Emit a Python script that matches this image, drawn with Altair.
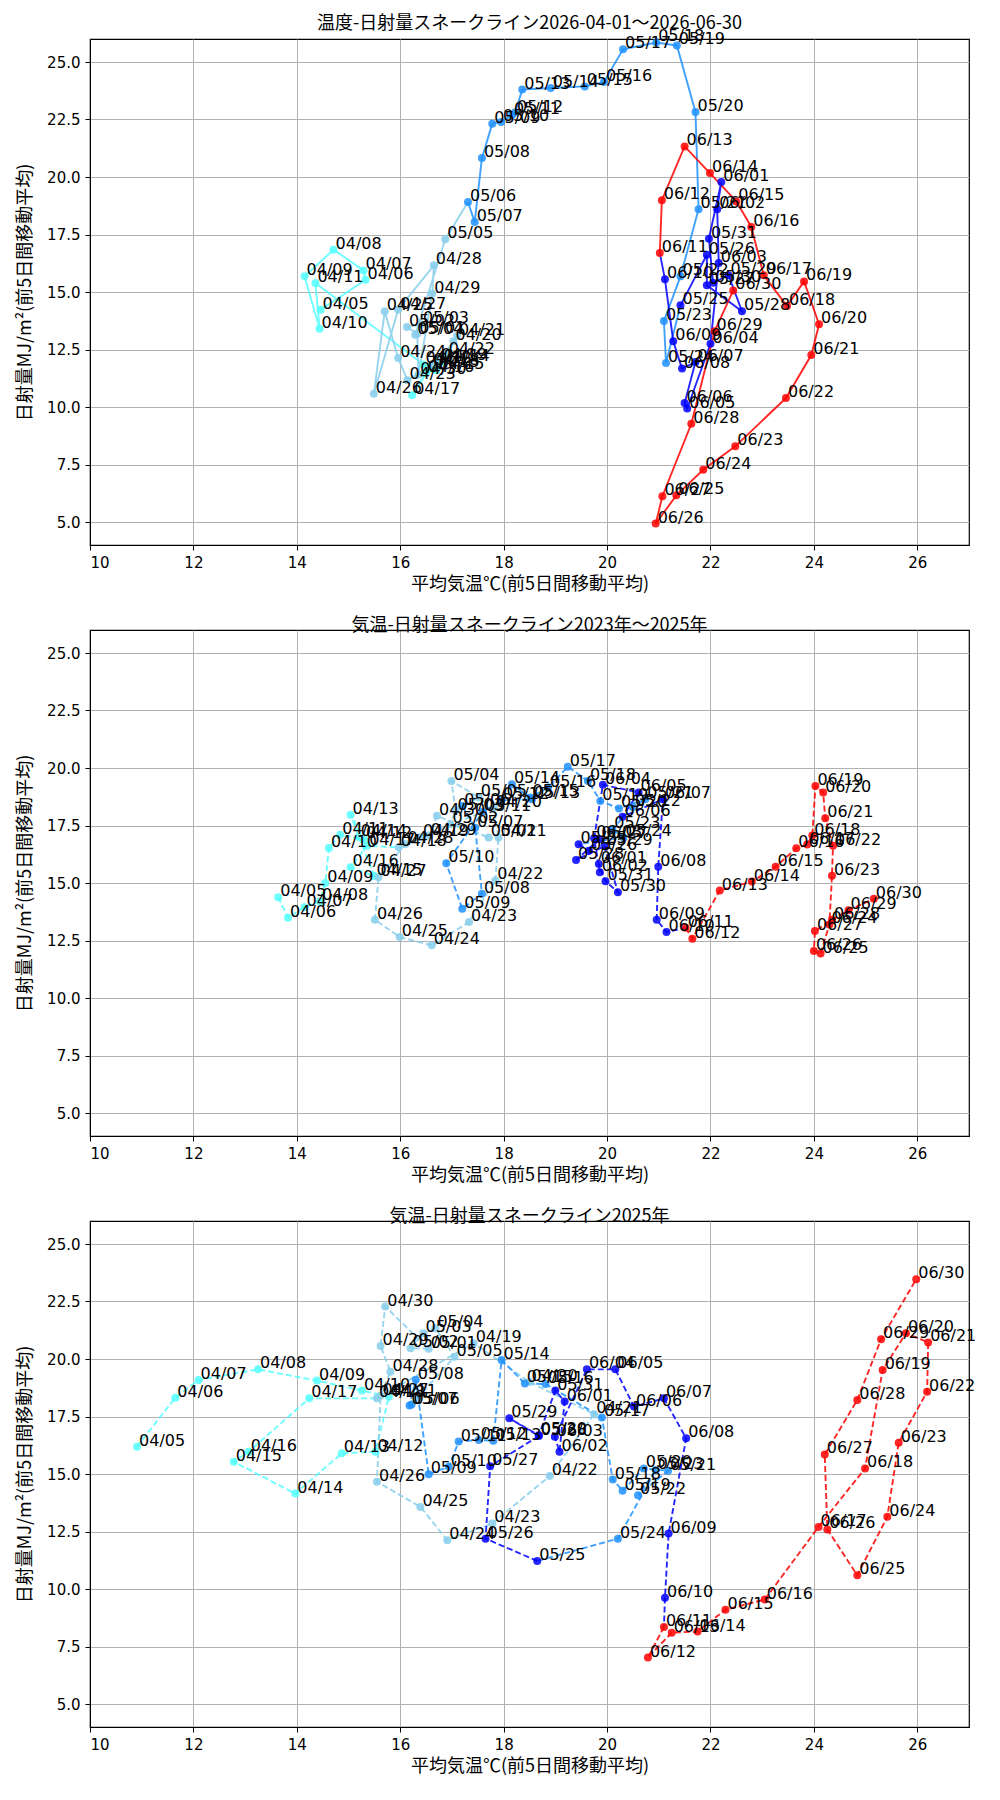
import altair as alt
import pandas as pd

# date labels 04/05 .. 06/30
dates = [d.strftime("%m/%d") for d in pd.date_range("2026-04-05", "2026-06-30")]

# colour groups (start date of each group)
group_starts = ["04/05", "04/18", "05/06", "05/25", "06/11"]
group_colors = ["#55ffff", "skyblue", "dodgerblue", "blue", "red"]

titles = [
    "温度-日射量スネークライン2026-04-01〜2026-06-30",
    "気温-日射量スネークライン2023年〜2025年",
    "気温-日射量スネークライン2025年",
]

# ---- panel 1: 2026 ----
x2026 = [14.46, 15.33, 15.29, 14.71, 14.15, 14.44, 14.36, 16.45, 16.60, 16.80,
         16.70, 16.50, 16.23, 16.60, 16.75, 17.03, 17.10, 16.90, 16.14, 15.96,
         15.70, 15.49, 15.96, 16.65, 16.62, 16.35, 16.33, 16.13, 16.40, 16.29,
         16.87, 17.31, 17.44, 17.58, 17.78, 17.95, 18.16, 18.22, 18.36, 18.91,
         19.57, 19.94, 20.31, 20.95, 21.35, 21.71, 21.77, 21.42, 21.10, 21.14,
         21.42, 21.93, 21.93, 22.61, 22.35, 22.05, 21.97, 22.21, 22.13, 22.16,
         22.00, 21.55, 21.50, 21.71, 21.45, 21.28, 21.12, 21.02, 21.06, 21.50,
         21.99, 22.50, 22.79, 23.03, 23.48, 23.81, 24.10, 23.95, 23.46, 22.48,
         21.86, 21.34, 20.94, 21.07, 21.63, 22.08, 22.44]
y2026 = [14.23, 15.53, 15.94, 16.84, 15.68, 13.40, 15.39, 11.85, 11.70, 11.95,
         11.60, 11.50, 10.51, 11.80, 12.00, 12.86, 13.10, 12.25, 11.16, 12.13,
         14.16, 10.58, 14.23, 16.16, 14.93, 11.40, 13.19, 13.48, 13.60, 13.14,
         17.29, 18.91, 18.04, 20.83, 22.32, 22.39, 22.68, 22.80, 23.80, 23.87,
         23.94, 24.13, 25.55, 25.85, 25.72, 22.83, 18.60, 15.68, 13.74, 11.91,
         14.42, 16.62, 15.29, 14.16, 15.73, 15.40, 17.32, 19.78, 18.60, 16.26,
         12.75, 9.93, 10.17, 11.96, 11.67, 12.86, 15.55, 16.70, 18.99, 21.33,
         20.17, 18.94, 17.83, 15.73, 14.39, 15.46, 13.60, 12.26, 10.39, 8.29,
         7.27, 6.16, 4.93, 6.12, 9.27, 13.29, 15.07]

# ---- panel 2: 2023-2025 average ----
xavg = [13.64, 13.83, 14.15, 14.45, 14.55, 14.62, 14.84, 15.30, 15.04, 15.20,
        15.50, 15.04, 15.36, 15.97, 16.40, 17.81, 17.90, 17.84, 17.33, 16.61,
        15.99, 15.51, 15.58, 16.10, 16.55, 16.71, 17.71, 16.97, 17.07, 16.99,
        17.52, 17.20, 17.45, 17.58, 17.20, 16.89, 17.60, 17.95, 18.55, 18.16,
        18.52, 18.86, 19.24, 19.63, 19.87, 20.23, 20.74, 20.50, 20.10, 20.32,
        19.45, 19.65, 19.85, 19.40, 19.95, 20.21, 19.97, 19.84, 19.86, 19.75,
        19.92, 20.61, 20.30, 21.08, 20.99, 20.96, 21.15, 21.52, 21.65, 22.18,
        22.80, 23.26, 23.66, 23.87, 23.97, 24.03, 24.18, 24.22, 24.37, 24.35,
        24.30, 24.13, 24.00, 24.02, 24.35, 24.67, 25.16]
yavg = [14.38, 13.49, 13.95, 14.20, 15.00, 16.52, 17.10, 16.90, 17.97, 17.00,
        15.30, 15.68, 16.62, 16.55, 17.00, 18.28, 16.98, 15.11, 13.30, 12.29,
        12.65, 13.40, 15.25, 16.70, 17.06, 17.92, 16.98, 17.56, 18.14, 19.44,
        18.72, 18.35, 17.40, 14.53, 13.88, 15.86, 18.10, 18.60, 18.64, 19.29,
        18.72, 19.15, 20.05, 19.44, 18.57, 18.24, 18.64, 18.30, 17.34, 16.98,
        16.69, 16.40, 16.90, 16.00, 16.60, 14.60, 15.08, 15.83, 15.47, 16.95,
        19.27, 18.94, 17.88, 18.64, 15.71, 13.40, 12.87, 13.05, 12.58, 14.67,
        15.06, 15.71, 16.51, 16.67, 17.06, 19.22, 18.93, 17.82, 16.62, 15.32,
        13.20, 11.93, 12.04, 12.91, 13.40, 13.81, 14.31]

# ---- panel 3: 2025 ----
x2025 = [10.91, 11.65, 12.10, 13.25, 14.39, 15.26, 15.78, 15.52, 14.87, 13.97,
         12.78, 13.07, 14.24, 15.55, 17.42, 18.50, 19.75, 18.89, 17.78, 16.91,
         16.39, 15.55, 15.62, 15.81, 15.62, 15.71, 16.55, 16.20, 16.45, 16.68,
         17.05, 16.22, 16.18, 16.30, 16.55, 16.94, 17.13, 17.52, 17.80, 17.96,
         18.41, 18.81, 19.90, 20.11, 20.30, 20.71, 21.18, 20.60, 20.94, 20.21,
         18.65, 17.65, 17.74, 18.68, 18.11, 18.68, 19.00, 19.18, 19.08, 18.99,
         19.61, 20.16, 20.52, 21.10, 21.53, 21.19, 21.12, 21.10, 20.79, 21.25,
         21.75, 22.29, 23.05, 24.09, 24.99, 25.33, 25.78, 26.21, 26.19, 25.64,
         25.42, 24.84, 24.26, 24.21, 24.84, 25.30, 25.98]
y2025 = [16.19, 18.32, 19.09, 19.55, 19.06, 18.63, 18.36, 15.97, 15.90, 14.15,
         15.53, 15.97, 18.29, 18.29, 20.69, 19.00, 17.60, 14.91, 12.85, 12.12,
         13.57, 14.66, 18.40, 19.45, 20.57, 22.28, 20.45, 20.47, 21.12, 21.34,
         20.10, 18.02, 17.98, 19.10, 14.99, 15.32, 16.41, 16.48, 16.45, 19.96,
         18.94, 18.91, 17.46, 14.76, 14.27, 15.24, 15.14, 14.08, 15.17, 12.19,
         11.22, 12.19, 15.34, 16.65, 17.42, 16.69, 18.63, 18.15, 15.97, 16.62,
         19.55, 19.55, 17.93, 18.29, 16.55, 12.41, 9.62, 8.35, 7.02, 8.10,
         8.15, 9.10, 9.54, 12.70, 15.24, 19.52, 21.12, 20.72, 18.58, 16.36,
         13.14, 10.60, 12.59, 15.85, 18.22, 20.86, 23.47]

x_ticks = [10, 12, 14, 16, 18, 20, 22, 24, 26]
y_ticks = [5.0, 7.5, 10.0, 12.5, 15.0, 17.5, 20.0, 22.5, 25.0]

JP = "Noto Sans CJK JP"


def group_of(d):
    g = 0
    for i, s in enumerate(group_starts):
        if d >= s:
            g = i
    return g


def panel(xs, ys, title, dashed):
    rows = []
    for i, (d, xv, yv) in enumerate(zip(dates, xs, ys)):
        rows.append({"idx": i, "date": d, "x": xv, "y": yv, "grp": group_of(d)})
    df = pd.DataFrame(rows)
    lrows = []
    for g in range(len(group_starts)):
        sub = df[df.grp == g]
        if len(sub) == 0:
            continue
        last = sub.idx.max()
        for _, r in sub.iterrows():
            lrows.append({"idx": r.idx, "x": r.x, "y": r.y, "seg": g})
        if last + 1 < len(df):
            r = df.iloc[last + 1]
            lrows.append({"idx": r.idx, "x": r.x, "y": r.y, "seg": g})
    ldf = pd.DataFrame(lrows)

    xenc = alt.X("x:Q", scale=alt.Scale(domain=[10, 27], nice=False, zero=False),
                 axis=alt.Axis(values=x_ticks, title="平均気温℃(前5日間移動平均)", format="d"))
    yenc = alt.Y("y:Q", scale=alt.Scale(domain=[4, 26], nice=False, zero=False),
                 axis=alt.Axis(values=y_ticks, title="日射量MJ/m²(前5日間移動平均)", format=".1f"))
    cscale = alt.Scale(domain=list(range(len(group_starts))), range=group_colors)

    lm = dict(strokeWidth=1.9, opacity=0.85)
    if dashed:
        lm["strokeDash"] = [6, 3]
    line = alt.Chart(ldf).mark_line(**lm).encode(
        x=xenc, y=yenc,
        color=alt.Color("seg:O", scale=cscale, legend=None),
        detail="seg:O", order="idx:Q")
    pts = alt.Chart(df).mark_circle(size=64, opacity=0.85).encode(
        x=xenc, y=yenc, color=alt.Color("grp:O", scale=cscale, legend=None))
    txt = alt.Chart(df).mark_text(align="left", baseline="alphabetic", dx=2, dy=-1,
                                  fontSize=16, font="DejaVu Sans", color="black").encode(
        x=xenc, y=yenc, text="date:N")
    return alt.layer(line, pts, txt).properties(
        width=879, height=506,
        title=alt.TitleParams(title, fontSize=18, font=JP, fontWeight="normal",
                              color="black", offset=-5))


chart = alt.vconcat(
    panel(x2026, y2026, titles[0], False),
    panel(xavg, yavg, titles[1], True),
    panel(x2025, y2025, titles[2], True),
    spacing=22,
).configure_view(stroke="black", strokeWidth=1.2).configure_axis(
    grid=True, gridColor="#b0b0b0", gridWidth=1, domainColor="black",
    tickColor="black", labelColor="black", labelFontSize=15, labelFont="DejaVu Sans",
    titleFont=JP, titleFontSize=18, titleFontWeight="normal", titleColor="black",
    tickSize=5, labelPadding=5, titlePadding=5,
).configure_axisY(titlePadding=12).properties(
    padding={"left": 8, "top": 6, "right": 5, "bottom": 5})

chart.save("out.html", embed_options={"renderer": "svg", "actions": False})
